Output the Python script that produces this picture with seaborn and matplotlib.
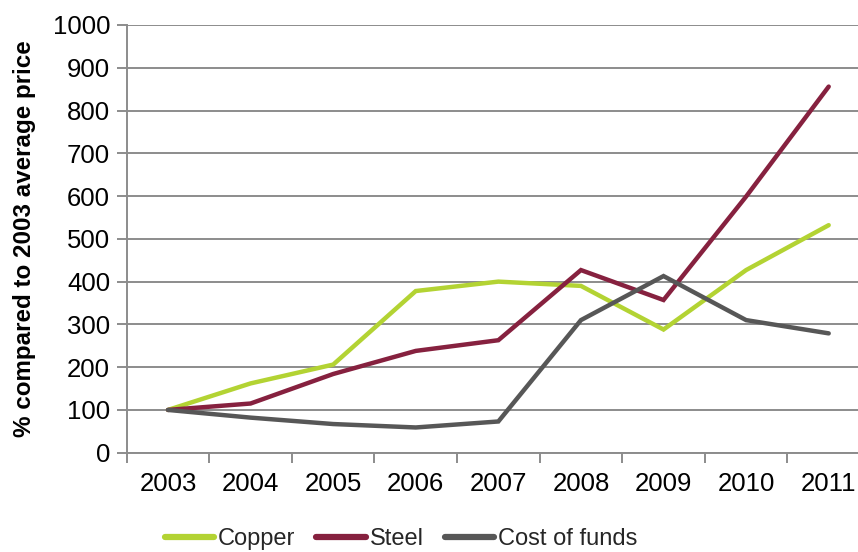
import matplotlib
matplotlib.use("Agg")
import matplotlib.pyplot as plt
from matplotlib.ticker import FixedLocator, MultipleLocator
import seaborn as sns
import pandas as pd

years = ["2003", "2004", "2005", "2006", "2007", "2008", "2009", "2010", "2011"]
copper = [100, 162, 206, 378, 400, 390, 288, 427, 532]
steel = [100, 115, 184, 238, 263, 427, 357, 599, 856]
cost_of_funds = [100, 82, 67, 59, 73, 310, 413, 310, 279]

series_names = ["Copper", "Steel", "Cost of funds"]
palette = {"Copper": "#B3D333", "Steel": "#86213F", "Cost of funds": "#575757"}

df = pd.DataFrame({
    "year": years * 3,
    "value": copper + steel + cost_of_funds,
    "series": [series_names[0]] * 9 + [series_names[1]] * 9 + [series_names[2]] * 9,
})
df["pos"] = df["year"].map({y: i for i, y in enumerate(years)})

sns.set_theme(style="white")
plt.rcParams["font.family"] = ["Liberation Sans", "DejaVu Sans"]

W, H = 858, 552
fig = plt.figure(figsize=(W / 100, H / 100), dpi=100)
left, right, top, bottom = 126.7, 870.0, 25.0, 452.7
ax = fig.add_axes([left / W, 1 - bottom / H, (right - left) / W, (bottom - top) / H])

grid_color = "#8C8C8C"
ax.set_ylim(0, 1000)
ax.set_xlim(-0.5, 8.5)
ax.yaxis.set_major_locator(MultipleLocator(100))
ax.grid(axis="y", color=grid_color, linewidth=1.4)
ax.set_axisbelow(True)

sns.lineplot(data=df, x="pos", y="value", hue="series", hue_order=series_names,
             palette=palette, linewidth=3.2, sort=False, ax=ax, legend=False,
             solid_capstyle="round", solid_joinstyle="miter")

ax.set_xticks(range(len(years)))
ax.set_xticklabels(years)
ax.xaxis.set_minor_locator(FixedLocator([i - 0.5 for i in range(len(years) + 1)]))
ax.tick_params(axis="x", which="major", length=0, pad=14, labelsize=18.5, labelcolor="black")
ax.tick_params(axis="x", which="minor", length=7, width=1.4, color=grid_color, bottom=True)
ax.tick_params(axis="y", which="major", length=7, width=1.4, color=grid_color, pad=5,
               labelsize=18.5, labelcolor="black", left=True)
ax.set_xlabel("")
ax.set_ylabel("% compared to 2003 average price", fontsize=17.4, fontweight="bold",
              color="black", labelpad=12)

for s in ("top", "right"):
    ax.spines[s].set_visible(False)
for s in ("left", "bottom"):
    ax.spines[s].set_color(grid_color)
    ax.spines[s].set_linewidth(1.4)

handles = [plt.Line2D([], [], color=palette[n], linewidth=4.5, solid_capstyle="round")
           for n in series_names]
fig.legend(handles, series_names, loc="center", bbox_to_anchor=(401 / W, 1 - 539 / H),
           ncol=3, frameon=False, fontsize=17, handlelength=2.1, handletextpad=0.15,
           columnspacing=0.9)

fig.savefig("out.png", dpi=100)
